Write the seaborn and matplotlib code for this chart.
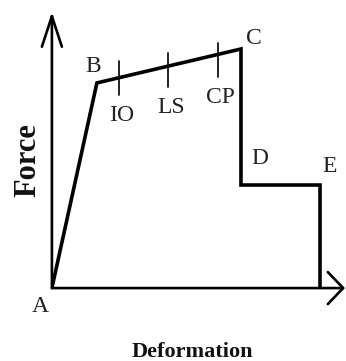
import matplotlib
matplotlib.use("Agg")
import matplotlib.pyplot as plt
import seaborn as sns
import pandas as pd

# Idealised force-deformation backbone (normalised units, C = (1, 1))
points = ["A", "B", "C", "D", "E", "E0"]
deformation = [0.0, 0.238, 1.0, 1.0, 1.418, 1.418]
force = [0.0, 0.858, 1.0, 0.431, 0.431, 0.0]

# Performance levels marked on the B-C branch
levels = ["IO", "LS", "CP"]
level_deformation = [0.354, 0.614, 0.878]
level_force = [0.879, 0.912, 0.954]
tick_half = 0.071

sns.set_style("white")
plt.rcParams["font.family"] = ["Liberation Serif", "DejaVu Serif"]

df = pd.DataFrame({"Deformation": deformation, "Force": force, "pt": points})

fig = plt.figure(figsize=(3.46, 3.61), dpi=100)
ax = fig.add_axes([0.150, 0.202, 0.847, 0.765])

sns.lineplot(data=df, x="Deformation", y="Force", sort=False, estimator=None,
             color="black", lw=2.6, ax=ax, solid_joinstyle="miter", zorder=3)

ax.set_xlim(0, 1.550)
ax.set_ylim(0, 1.155)
for s in ax.spines.values():
    s.set_visible(False)
ax.set_xticks([])
ax.set_yticks([])

# Axes drawn as arrows
ax.annotate("", xy=(1.0, 0.0), xytext=(0, 0), xycoords="axes fraction",
            arrowprops=dict(arrowstyle="->, head_length=1.1, head_width=1.15",
                            mutation_scale=10, lw=1.9, color="black",
                            shrinkA=0, shrinkB=0), annotation_clip=False)
ax.annotate("", xy=(0.0, 1.0), xytext=(0, 0), xycoords="axes fraction",
            arrowprops=dict(arrowstyle="->, head_length=2.2, head_width=0.72",
                            mutation_scale=10, lw=1.9, color="black",
                            shrinkA=0, shrinkB=0), annotation_clip=False)

# Performance level ticks and names
for name, x, y in zip(levels, level_deformation, level_force):
    ax.plot([x, x], [y - tick_half, y + tick_half], color="#111111", lw=1.3,
            zorder=4)
    ax.annotate(name, (x, y), xytext=(2, -27), textcoords="offset points",
                ha="center", va="center", fontsize=17, color="#222222")

# Point names
offsets = {"A": (-8.6, -13), "B": (-2.9, 11.5), "C": (9.4, 7.9),
           "D": (13.7, 19.4), "E": (7.2, 13)}
for p, x, y in zip(points, deformation, force):
    if p in offsets:
        ax.annotate(p, (x, y), xytext=offsets[p], textcoords="offset points",
                    ha="center", va="center", fontsize=17, color="#222222")

ax.set_ylabel("Force", fontsize=22, fontweight="bold", color="#111111",
              va="center")
ax.set_xlabel("Deformation", fontsize=16, fontweight="bold", color="#111111",
              va="center")
ax.yaxis.set_label_coords(-0.082, 0.464)
ax.xaxis.set_label_coords(0.478, -0.230)

fig.savefig("out.png", dpi=100)
